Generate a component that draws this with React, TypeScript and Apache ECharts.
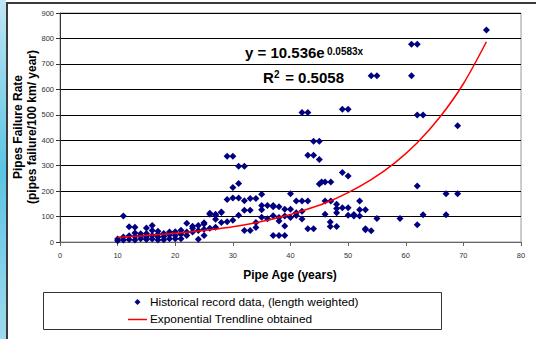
import React, { useEffect, useRef } from "react";
import * as echarts from "echarts";

// Historical record data (pipe age in years, failures per 100 km per year)
const youngPipes: [number, number][] = [
  [10, 5], [10, 12], [11, 102], [11, 20], [11, 8], [12, 25], [12, 60], [12, 10],
  [13, 58], [13, 35], [13, 8], [13, 22], [14, 13], [14, 32], [14, 25], [15, 55],
  [15, 33], [15, 10], [15, 20], [16, 65], [16, 26], [16, 45], [16, 12], [17, 42],
  [17, 20], [17, 8], [17, 30], [18, 33], [18, 9], [18, 22], [19, 39], [19, 13],
  [19, 28], [20, 26], [20, 13], [20, 40], [21, 46], [21, 13], [21, 30],
  [22, 26], [22, 39], [22, 74], [23, 39], [23, 62], [23, 54], [24, 65], [24, 11],
  [24, 45], [25, 71], [25, 26], [25, 50], [25, 76], [26, 109], [26, 113], [26, 54],
  [27, 109], [27, 89], [27, 105], [27, 58], [28, 118], [28, 116], [28, 77],
];

const middlePipes: [number, number][] = [
  [29, 337], [30, 337], [31, 298], [32, 298], [30, 214], [31, 230], [29, 167],
  [30, 173], [31, 173], [32, 162], [33, 171], [34, 171], [35, 188], [29, 80],
  [30, 85], [31, 105], [32, 125], [33, 125], [34, 77], [35, 97], [36, 91],
  [35, 143], [35, 127], [36, 143], [37, 143], [32, 45], [33, 45], [34, 57],
  [37, 139], [38, 139], [37, 103], [38, 96], [38, 83], [37, 26], [38, 26], [39, 26],
];

const olderPipes: [number, number][] = [
  [39, 129], [39, 102], [39, 63], [40, 129], [40, 96], [40, 190], [41, 161],
  [41, 115], [41, 104], [42, 90], [42, 121], [42, 161], [43, 161], [42, 509],
  [43, 509], [44, 396], [45, 396], [43, 341], [44, 341], [45, 324], [45, 228],
  [45.4, 236], [46, 236], [47, 236], [46, 161], [47, 161], [46, 109], [43, 52],
  [44, 52], [46.9, 79], [46.9, 61], [48, 61], [48, 148], [48, 132], [48, 115],
  [49, 135], [50, 135], [49, 273], [50, 259], [49, 522], [50, 522], [50, 105],
  [51, 102], [52, 102], [52, 161], [52, 127], [53, 127], [51, 108], [53, 48],
  [54, 44], [53, 52],
];

const oldestPipes: [number, number][] = [
  [54, 653], [55, 653], [55, 92], [59, 92], [61, 777], [62, 777], [61, 653],
  [62, 499], [63, 499], [62, 220], [63, 107], [62, 68], [67, 190], [69, 190],
  [67, 107], [69, 457], [74, 833],
];

// Exponential trendline (y = 10.536e^0.0583x)
const trendAge = [10, 14, 18, 22, 26, 30, 34, 38, 42, 46, 50, 54, 58, 62, 66, 70, 74];
const trendRate = [19, 24, 30, 38, 48, 60, 76, 96, 122, 153, 194, 245, 309, 390, 493, 622, 787];

const scatterName = "Historical record data, (length weighted)";
const trendName = "Exponential Trendline obtained";

const FONT = "'Liberation Sans', Arial, sans-serif";

export default function App() {
  const ref = useRef<HTMLDivElement>(null);

  useEffect(() => {
    if (!ref.current) return;
    const chart = echarts.init(ref.current, undefined, { renderer: "svg" });

    const points = [...youngPipes, ...middlePipes, ...olderPipes, ...oldestPipes];
    const trend = trendAge.map((a, i) => [a, trendRate[i]]);

    chart.setOption({
      animation: false,
      backgroundColor: "#ffffff",
      grid: {
        left: 60,
        right: 15,
        top: 13,
        bottom: 97,
        show: true,
        borderColor: "#9a9a9a",
        borderWidth: 1,
      },
      xAxis: {
        type: "value",
        min: 0,
        max: 80,
        interval: 10,
        axisLine: { show: true, onZero: false, lineStyle: { color: "#666", width: 1 } },
        axisTick: { show: true, length: 4, lineStyle: { color: "#666" } },
        splitLine: { show: false },
        axisLabel: { fontSize: 7.5, color: "#333", margin: 9, fontFamily: FONT },
      },
      yAxis: {
        type: "value",
        min: 0,
        max: 900,
        interval: 100,
        axisLine: { show: true, lineStyle: { color: "#333", width: 1 } },
        axisTick: { show: true, length: 4, lineStyle: { color: "#333" } },
        splitLine: { show: true, lineStyle: { color: "#000", width: 1 } },
        axisLabel: { fontSize: 7.5, color: "#333", margin: 6, fontFamily: FONT },
      },
      series: [
        {
          name: scatterName,
          type: "scatter",
          data: points,
          symbol: "diamond",
          symbolSize: 7,
          itemStyle: { color: "#000080", opacity: 1 },
          z: 2,
        },
        {
          name: trendName,
          type: "line",
          data: trend,
          smooth: 0.3,
          showSymbol: false,
          symbol: "none",
          lineStyle: { color: "#ff0000", width: 1.5 },
          z: 3,
        },
      ],
      graphic: [
        // left picture strip
        {
          type: "rect",
          shape: { x: 0, y: 0, width: 6, height: 339 },
          style: {
            fill: new echarts.graphic.LinearGradient(0, 0, 0, 1, [
              { offset: 0, color: "#bfe6f3" },
              { offset: 0.5, color: "#5cc4e4" },
              { offset: 1, color: "#9fd9ee" },
            ]),
          },
          silent: true,
        },
        // frame
        {
          type: "line",
          shape: { x1: 6, y1: 3, x2: 536, y2: 3 },
          style: { stroke: "#3a3a3a", lineWidth: 2 },
          silent: true,
        },
        {
          type: "line",
          shape: { x1: 7, y1: 3, x2: 7, y2: 339 },
          style: { stroke: "#3a3a3a", lineWidth: 2 },
          silent: true,
        },
        // equation
        {
          type: "text",
          x: 245,
          y: 60,
          style: {
            text: "y = 10.536e",
            font: `bold 15px ${FONT}`,
            fill: "#000",
            align: "left",
            verticalAlign: "bottom",
          },
        },
        {
          type: "text",
          x: 327,
          y: 46,
          style: {
            text: "0.0583x",
            font: `bold 10px ${FONT}`,
            fill: "#000",
            align: "left",
            verticalAlign: "top",
          },
        },
        {
          type: "text",
          x: 263,
          y: 85,
          style: {
            text: "R",
            font: `bold 15px ${FONT}`,
            fill: "#000",
            align: "left",
            verticalAlign: "bottom",
          },
        },
        {
          type: "text",
          x: 274,
          y: 69,
          style: {
            text: "2",
            font: `bold 10px ${FONT}`,
            fill: "#000",
            align: "left",
            verticalAlign: "top",
          },
        },
        {
          type: "text",
          x: 281,
          y: 85,
          style: {
            text: " = 0.5058",
            font: `bold 15px ${FONT}`,
            fill: "#000",
            align: "left",
            verticalAlign: "bottom",
          },
        },
        // y axis title
        {
          type: "text",
          x: 25,
          y: 127,
          rotation: Math.PI / 2,
          style: {
            text: "Pipes Failure Rate\n(pipes failure/100 km/ year)",
            font: `bold 12px ${FONT}`,
            fill: "#000",
            align: "center",
            verticalAlign: "middle",
            lineHeight: 14,
          },
        },
        // x axis title
        {
          type: "text",
          x: 290,
          y: 275,
          style: {
            text: "Pipe Age (years)",
            font: `bold 12px ${FONT}`,
            fill: "#000",
            align: "center",
            verticalAlign: "middle",
          },
        },
        // legend
        {
          type: "rect",
          shape: { x: 43.5, y: 292.5, width: 398, height: 37 },
          style: { fill: "#fff", stroke: "#333", lineWidth: 1 },
        },
        {
          type: "polygon",
          shape: { points: [[137.5, 299], [140.5, 302], [137.5, 305], [134.5, 302]] },
          style: { fill: "#000080" },
        },
        {
          type: "text",
          x: 150,
          y: 302,
          style: {
            text: scatterName,
            font: `11.8px ${FONT}`,
            fill: "#000",
            align: "left",
            verticalAlign: "middle",
          },
        },
        {
          type: "line",
          shape: { x1: 128, y1: 319.5, x2: 147, y2: 319.5 },
          style: { stroke: "#ff0000", lineWidth: 1.5 },
        },
        {
          type: "text",
          x: 150,
          y: 319,
          style: {
            text: trendName,
            font: `11.8px ${FONT}`,
            fill: "#000",
            align: "left",
            verticalAlign: "middle",
          },
        },
      ],
    });

    return () => chart.dispose();
  }, []);

  return (
    <div
      ref={ref}
      style={{ position: "fixed", left: 0, top: 0, width: 536, height: 339 }}
    />
  );
}
